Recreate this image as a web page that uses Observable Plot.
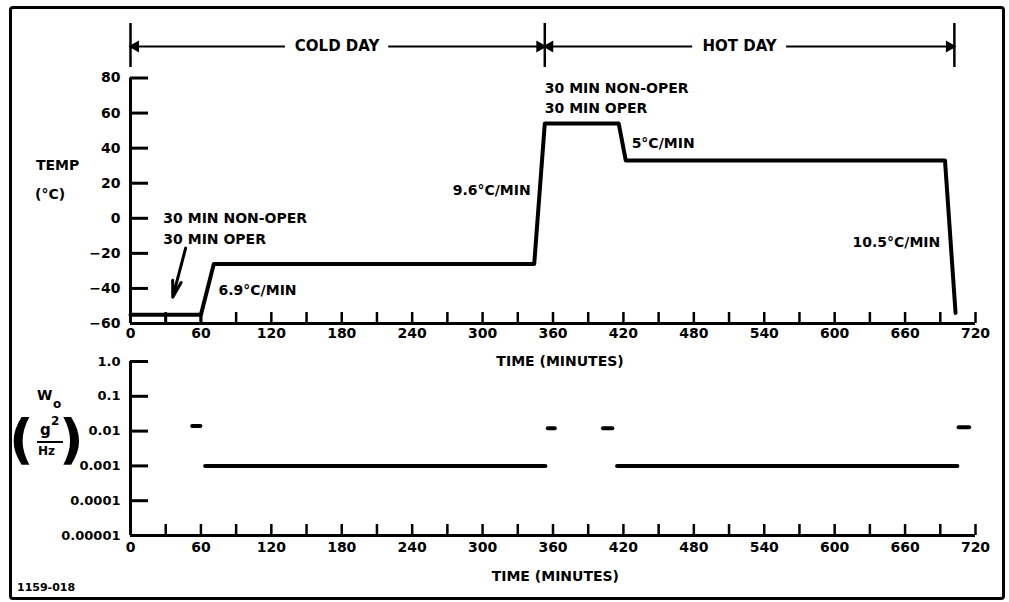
<!DOCTYPE html>
<html><head><meta charset="utf-8">
<script src="https://cdn.jsdelivr.net/npm/d3@7"></script>
<script src="https://cdn.jsdelivr.net/npm/@observablehq/plot@0.6"></script>
<style>
body{margin:0;background:#fff;}
#wrap{position:relative;width:1009px;height:602px;overflow:hidden;font-family:"DejaVu Sans",sans-serif;font-weight:bold;color:#000;background:#fff;}
#frame{position:absolute;left:9px;top:6px;width:990px;height:588px;border:3px solid #000;border-radius:4px;}
.lbl{position:absolute;white-space:nowrap;line-height:1;}
#wrap svg{position:absolute;left:0;}
</style></head><body>
<div id="wrap">
  <div id="frame"></div>
  <div class="lbl" style="left:36px;top:158px;font-size:14px;">TEMP</div>
  <div class="lbl" style="left:35px;top:187px;font-size:14px;">(°C)</div>
  <div class="lbl" style="left:37px;top:388px;font-size:14px;">W</div>
  <div class="lbl" style="left:53px;top:398px;font-size:12px;">o</div>
  <div class="lbl" style="left:9px;top:413px;font-size:54px;font-weight:bold;">(</div>
  <div class="lbl" style="left:40px;top:423px;font-size:15px;">g</div>
  <div class="lbl" style="left:51px;top:415px;font-size:12px;">2</div>
  <div style="position:absolute;left:37px;top:441px;width:26px;height:2px;background:#000;"></div>
  <div class="lbl" style="left:38px;top:445px;font-size:12px;">Hz</div>
  <div class="lbl" style="left:59px;top:413px;font-size:54px;font-weight:bold;">)</div>
  <div class="lbl" style="left:17px;top:582px;font-size:11px;">1159-018</div>
</div>
<script>
// ---------- data ----------
const xTicks = [0,30,60,90,120,150,180,210,240,270,300,330,360,390,420,450,480,510,540,570,600,630,660,690,720];
const xTickLabels = [0,60,120,180,240,300,360,420,480,540,600,660,720];
const tempTicks = [-60,-40,-20,0,20,40,60,80];
const tempTickLabels = ["−60","−40","−20","0","20","40","60","80"];

const profileTime = [0,60,71,344,353,416,422,694,703];
const profileTemp = [-55,-55,-26,-26,54,54,33,33,-54];
const boxDividers = [30,60];
const boxBottom = -60, boxTop = -55;

const phaseBounds = [0,353,702];
const phaseNames = ["COLD DAY","HOT DAY"];
const phaseLabelX = [176,519];
const phaseLineStart = [0,220,353,559];
const phaseLineEnd = [132,353,479,702];

// annotations anchored at their left edge
const annLeftText = ["30 MIN NON-OPER","30 MIN OPER","6.9°C/MIN","30 MIN NON-OPER","30 MIN OPER","5°C/MIN"];
const annLeftTime = [28,28,75,353,353,427];
const annLeftTemp = [0,-12,-41,74,62.5,42.5];
// annotations anchored at their right edge
const annRightText = ["9.6°C/MIN","10.5°C/MIN"];
const annRightTime = [341,690];
const annRightTemp = [16,-14];

const psdTicks = [1,0.1,0.01,0.001,0.0001,0.00001];
const psdTickLabels = ["1.0","0.1","0.01","0.001","0.0001","0.00001"];
const psdStart = [53,64,356,403,415,706];
const psdEnd   = [60,354,362,411,705,715];
const psdLevel = [0.014,0.001,0.012,0.012,0.001,0.013];

// ---------- layout ----------
const W = 1009, mL = 130, mR = 34;
const frameW = W - mL - mR;
const font = {background:"transparent", overflow:"visible", fontFamily:"DejaVu Sans, sans-serif", fontWeight:"bold", color:"#000"};

// top panel
const tH = 380, tTop = 77.5, tBottom = 57, tFrameH = tH - tTop - tBottom;
const barY = 80, barDy = -31.5;
const idxP = profileTime.map((_, i) => i);
const topPlot = Plot.plot({
  width: W, height: tH, marginLeft: mL, marginRight: mR, marginTop: tTop, marginBottom: tBottom,
  x: {domain: [0, 720], axis: null},
  y: {domain: [-60, 80], axis: null},
  style: font,
  marks: [
    Plot.ruleY([-60], {strokeWidth: 3}),
    Plot.ruleX([0], {strokeWidth: 3}),
    Plot.ruleX(xTicks, {x: d => d, strokeWidth: 2.5, insetTop: tFrameH - 11}),
    Plot.ruleY(tempTicks, {y: d => d, strokeWidth: 3, insetRight: frameW - 18}),
    Plot.text(xTickLabels, {x: d => d, text: d => String(d), frameAnchor: "bottom", dy: 14, fontSize: 14}),
    Plot.text(tempTicks, {y: d => d, text: (d, i) => tempTickLabels[i], frameAnchor: "left", dx: -10, textAnchor: "end", fontSize: 14}),
    Plot.text(["TIME (MINUTES)"], {x: 366, frameAnchor: "bottom", dy: 42, fontSize: 14}),
    // box for non-oper/oper cold soak
    Plot.ruleX(boxDividers, {x: d => d, y1: boxBottom, y2: boxTop, strokeWidth: 3}),
    // temperature profile
    Plot.line(idxP, {x: i => profileTime[i], y: i => profileTemp[i], strokeWidth: 4, strokeLinejoin: "round", strokeLinecap: "round"}),
    // arrow pointing at 30-min divider
    Plot.arrow([0], {x1: 47, y1: -17, x2: 36, y2: -45, strokeWidth: 3, headLength: 9, headAngle: 30}),
    // annotations
    Plot.text(annLeftText, {x: (d, i) => annLeftTime[i], y: (d, i) => annLeftTemp[i], text: d => d, textAnchor: "start", fontSize: 14}),
    Plot.text(annRightText, {x: (d, i) => annRightTime[i], y: (d, i) => annRightTemp[i], text: d => d, textAnchor: "end", fontSize: 14}),
    // phase bracket
    Plot.ruleX(phaseBounds, {x: d => d, insetTop: -(tTop - 23), insetBottom: (tH - tBottom) - 67, strokeWidth: 2.5}),
    Plot.ruleY(phaseLineStart, {y: () => barY, x1: d => d, x2: (d, i) => phaseLineEnd[i], dy: barDy, strokeWidth: 2}),
    Plot.dot([0, 353], {x: d => d, y: () => barY, dy: barDy, dx: 5, symbol: "triangle", rotate: -90, r: 3.5, fill: "black", stroke: "black"}),
    Plot.dot([353, 702], {x: d => d, y: () => barY, dy: barDy, dx: -5, symbol: "triangle", rotate: 90, r: 3.5, fill: "black", stroke: "black"}),
    Plot.text(phaseNames, {x: (d, i) => phaseLabelX[i], y: () => barY, dy: barDy, text: d => d, fontSize: 15, fill: "black"})
  ]
});
topPlot.style.top = "0px";

// bottom panel
const bH = 262, bTop = 21, bBottom = 67, bFrameH = bH - bTop - bBottom;
const idxS = psdStart.map((_, i) => i);
const botPlot = Plot.plot({
  width: W, height: bH, marginLeft: mL, marginRight: mR, marginTop: bTop, marginBottom: bBottom,
  x: {domain: [0, 720], axis: null},
  y: {type: "log", domain: [0.00001, 1], axis: null},
  style: font,
  marks: [
    Plot.ruleY([0.00001], {strokeWidth: 3}),
    Plot.ruleX([0], {strokeWidth: 3}),
    Plot.ruleX(xTicks, {x: d => d, strokeWidth: 2.5, insetTop: bFrameH - 11}),
    Plot.ruleY(psdTicks, {y: d => d, strokeWidth: 3, insetRight: frameW - 18}),
    Plot.text(xTickLabels, {x: d => d, text: d => String(d), frameAnchor: "bottom", dy: 16, fontSize: 14}),
    Plot.text(psdTicks, {y: d => d, text: (d, i) => psdTickLabels[i], frameAnchor: "left", dx: -10, textAnchor: "end", fontSize: 13}),
    Plot.text(["TIME (MINUTES)"], {x: 362, frameAnchor: "bottom", dy: 45, fontSize: 14}),
    Plot.ruleY(idxS, {y: i => psdLevel[i], x1: i => psdStart[i], x2: i => psdEnd[i], strokeWidth: 4, strokeLinecap: "round"})
  ]
});
botPlot.style.top = "340px";

const wrap = document.getElementById("wrap");
wrap.appendChild(topPlot);
wrap.appendChild(botPlot);
</script>
</body></html>
